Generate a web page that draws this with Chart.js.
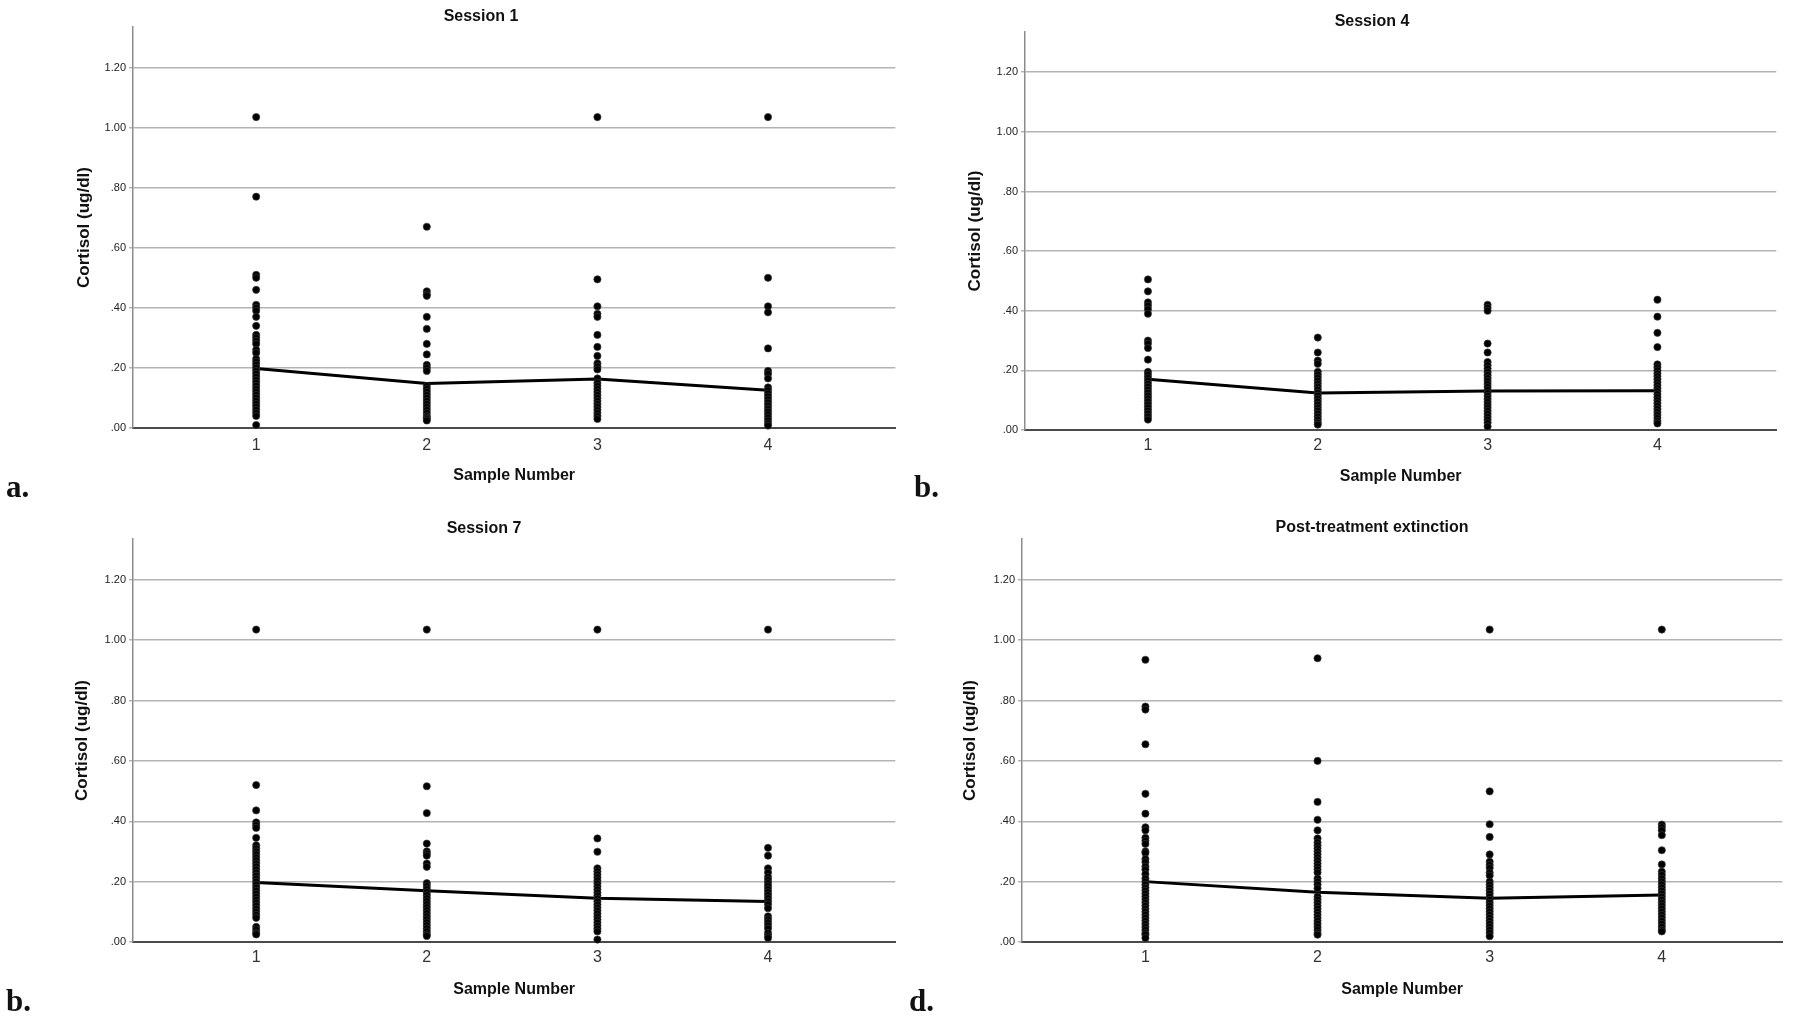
<!DOCTYPE html>
<html>
<head>
<meta charset="utf-8">
<script src="https://cdn.jsdelivr.net/npm/chart.js@4.4.1/dist/chart.umd.min.js"></script>
<style>
    html, body { margin: 0; padding: 0; background: #fff; }
    body { width: 1800px; height: 1019px; position: relative; overflow: hidden; }
    canvas { position: absolute; }
    .panel-label {
        position: absolute;
        font-family: 'Liberation Serif', 'Times New Roman', serif;
        font-weight: bold;
        font-size: 31px;
        line-height: 31px;
        color: #111;
    }
</style>
</head>
<body>
<canvas id="chartA" width="900" height="500" style="left:0px;top:0px"></canvas>
<canvas id="chartB" width="881" height="500" style="left:900px;top:0px"></canvas>
<canvas id="chartC" width="900" height="509" style="left:0px;top:510px"></canvas>
<canvas id="chartD" width="887" height="509" style="left:900px;top:510px"></canvas>
<div class="panel-label" style="left:6px;top:471px">a.</div>
<div class="panel-label" style="left:914px;top:471px">b.</div>
<div class="panel-label" style="left:6px;top:985px">b.</div>
<div class="panel-label" style="left:909px;top:985px">d.</div>
<script>
// x categories and y gridlines
const sampleNumbers = [1, 2, 3, 4];
const yTicks = [0, 0.2, 0.4, 0.6, 0.8, 1.0, 1.2];

// Session 1 - cortisol per sample (one list per sample number)
const session1Points = [
    [1.035, 0.77, 0.51, 0.50, 0.46, 0.41, 0.40, 0.39, 0.37, 0.34, 0.31, 0.30, 0.29, 0.28, 0.26, 0.25, 0.23, 0.22, 0.21, 0.20, 0.19, 0.18, 0.17, 0.16, 0.15, 0.14, 0.13, 0.12, 0.11, 0.10, 0.09, 0.08, 0.07, 0.06, 0.05, 0.04, 0.01],
    [0.67, 0.455, 0.445, 0.44, 0.37, 0.33, 0.28, 0.245, 0.21, 0.20, 0.19, 0.14, 0.13, 0.12, 0.11, 0.10, 0.09, 0.08, 0.07, 0.06, 0.05, 0.04, 0.035, 0.03, 0.025],
    [1.035, 0.495, 0.405, 0.38, 0.37, 0.31, 0.27, 0.24, 0.215, 0.205, 0.195, 0.165, 0.15, 0.14, 0.13, 0.12, 0.11, 0.10, 0.09, 0.08, 0.07, 0.06, 0.05, 0.04, 0.03],
    [1.035, 0.50, 0.405, 0.385, 0.265, 0.19, 0.18, 0.165, 0.135, 0.125, 0.115, 0.105, 0.095, 0.085, 0.075, 0.065, 0.055, 0.045, 0.035, 0.025, 0.015, 0.008]
];
const session1Means = [0.198, 0.148, 0.163, 0.126];

// Session 4
const session4Points = [
    [0.505, 0.465, 0.428, 0.417, 0.405, 0.39, 0.30, 0.29, 0.275, 0.236, 0.195, 0.185, 0.175, 0.165, 0.155, 0.145, 0.135, 0.125, 0.115, 0.105, 0.095, 0.085, 0.075, 0.065, 0.055, 0.045, 0.035],
    [0.31, 0.26, 0.233, 0.222, 0.195, 0.185, 0.175, 0.165, 0.155, 0.145, 0.135, 0.125, 0.115, 0.105, 0.095, 0.085, 0.075, 0.065, 0.055, 0.045, 0.035, 0.025, 0.018],
    [0.42, 0.41, 0.40, 0.29, 0.26, 0.228, 0.217, 0.206, 0.194, 0.184, 0.174, 0.164, 0.154, 0.144, 0.134, 0.124, 0.114, 0.104, 0.094, 0.084, 0.074, 0.064, 0.054, 0.044, 0.034, 0.024, 0.012],
    [0.437, 0.38, 0.326, 0.278, 0.22, 0.21, 0.20, 0.19, 0.18, 0.17, 0.16, 0.15, 0.14, 0.13, 0.12, 0.11, 0.10, 0.09, 0.08, 0.07, 0.06, 0.05, 0.04, 0.03, 0.022]
];
const session4Means = [0.170, 0.124, 0.131, 0.132];

// Session 7
const session7Points = [
    [1.035, 0.52, 0.436, 0.396, 0.387, 0.378, 0.345, 0.32, 0.31, 0.30, 0.29, 0.28, 0.27, 0.26, 0.25, 0.24, 0.23, 0.22, 0.21, 0.20, 0.19, 0.18, 0.17, 0.16, 0.15, 0.14, 0.13, 0.12, 0.11, 0.10, 0.09, 0.08, 0.05, 0.04, 0.03, 0.025],
    [1.035, 0.516, 0.427, 0.326, 0.30, 0.293, 0.286, 0.26, 0.249, 0.195, 0.185, 0.175, 0.165, 0.155, 0.145, 0.135, 0.125, 0.115, 0.105, 0.095, 0.085, 0.075, 0.065, 0.055, 0.045, 0.035, 0.025, 0.02],
    [1.035, 0.343, 0.299, 0.244, 0.234, 0.224, 0.214, 0.204, 0.194, 0.184, 0.174, 0.164, 0.154, 0.144, 0.134, 0.124, 0.114, 0.104, 0.094, 0.084, 0.074, 0.064, 0.054, 0.044, 0.035, 0.008],
    [1.035, 0.312, 0.286, 0.244, 0.23, 0.215, 0.205, 0.195, 0.185, 0.175, 0.165, 0.155, 0.145, 0.135, 0.125, 0.112, 0.085, 0.075, 0.065, 0.055, 0.045, 0.03, 0.02, 0.013]
];
const session7Means = [0.197, 0.170, 0.145, 0.134];

// Post-treatment extinction
const extinctionPoints = [
    [0.935, 0.78, 0.77, 0.655, 0.491, 0.425, 0.38, 0.37, 0.345, 0.335, 0.325, 0.30, 0.295, 0.275, 0.265, 0.25, 0.24, 0.225, 0.21, 0.20, 0.19, 0.18, 0.17, 0.16, 0.15, 0.14, 0.13, 0.12, 0.11, 0.10, 0.09, 0.08, 0.07, 0.06, 0.05, 0.04, 0.03, 0.024, 0.013],
    [0.94, 0.60, 0.464, 0.405, 0.37, 0.343, 0.33, 0.32, 0.31, 0.30, 0.29, 0.28, 0.27, 0.26, 0.25, 0.24, 0.23, 0.21, 0.20, 0.19, 0.178, 0.15, 0.14, 0.13, 0.12, 0.11, 0.10, 0.09, 0.08, 0.07, 0.06, 0.05, 0.04, 0.03, 0.024],
    [1.035, 0.499, 0.39, 0.348, 0.29, 0.266, 0.255, 0.245, 0.23, 0.22, 0.20, 0.19, 0.18, 0.17, 0.16, 0.15, 0.14, 0.13, 0.12, 0.11, 0.10, 0.09, 0.08, 0.07, 0.06, 0.05, 0.04, 0.03, 0.019],
    [1.035, 0.389, 0.38, 0.37, 0.354, 0.304, 0.257, 0.233, 0.222, 0.21, 0.20, 0.19, 0.18, 0.17, 0.16, 0.15, 0.14, 0.13, 0.12, 0.11, 0.10, 0.09, 0.08, 0.07, 0.06, 0.05, 0.04, 0.035]
];
const extinctionMeans = [0.200, 0.165, 0.145, 0.156];

Chart.defaults.font.family = "'Liberation Sans', Arial, sans-serif";
Chart.defaults.color = '#222';

function formatTick(v) {
    const s = v.toFixed(2);
    return v < 1 ? s.slice(1) : s;
}

function drawPanel(canvasId, title, points, means, lay) {
    const scatter = [];
    points.forEach((col, i) => {
        col.forEach(v => scatter.push({ x: sampleNumbers[i], y: v }));
    });
    const meanLine = means.map((m, i) => ({ x: sampleNumbers[i], y: m }));

    new Chart(document.getElementById(canvasId), {
        type: 'scatter',
        data: {
            datasets: [
                {
                    data: scatter,
                    backgroundColor: '#000',
                    borderColor: '#3a3a3a',
                    borderWidth: 0.7,
                    pointRadius: 3.6,
                    clip: false
                },
                {
                    data: meanLine,
                    showLine: true,
                    borderColor: '#000',
                    borderWidth: 3,
                    pointRadius: 0,
                    clip: false
                }
            ]
        },
        options: {
            responsive: false,
            animation: false,
            devicePixelRatio: 1,
            layout: { padding: { left: lay.padLeft, right: 0, top: 0, bottom: 0 } },
            plugins: {
                legend: { display: false },
                tooltip: { enabled: false },
                title: {
                    display: true,
                    text: title,
                    color: '#111',
                    font: { size: 16, weight: 'bold' },
                    padding: { top: lay.titleTop, bottom: lay.titleBottom }
                }
            },
            scales: {
                x: {
                    type: 'linear',
                    min: lay.xMin,
                    max: lay.xMax,
                    afterBuildTicks: (axis) => { axis.ticks = sampleNumbers.map(v => ({ value: v })); },
                    afterFit: (axis) => { axis.height = lay.h - lay.plotBottom; },
                    grid: { display: false, drawTicks: false },
                    border: { display: true, color: '#4a4a4a', width: 2 },
                    ticks: {
                        padding: lay.tickPad,
                        color: '#333',
                        font: { size: 16 },
                        callback: (v) => String(v)
                    },
                    title: {
                        display: true,
                        text: 'Sample Number',
                        color: '#111',
                        font: { size: 16, weight: 'bold' },
                        padding: { top: 0, bottom: lay.xTitleBottom }
                    }
                },
                y: {
                    min: 0,
                    max: 1.335,
                    afterBuildTicks: (axis) => { axis.ticks = yTicks.map(v => ({ value: v })); },
                    afterFit: (axis) => { axis.width = lay.yAxisWidth; },
                    grid: { color: '#b4b4b4', lineWidth: 1.5, tickLength: 4 },
                    border: { display: true, color: '#8c8c8c', width: 1.5 },
                    ticks: {
                        padding: 3,
                        color: '#222',
                        font: { size: 11 },
                        callback: (v) => formatTick(v)
                    },
                    title: {
                        display: true,
                        text: 'Cortisol (ug/dl)',
                        color: '#111',
                        font: { size: 17, weight: 'bold' },
                        padding: { top: lay.yTitleTop, bottom: 0 }
                    }
                }
            }
        }
    });
}

drawPanel('chartA', 'Session 1', session1Points, session1Means,
    { h: 500, padLeft: 62, yAxisWidth: 71, plotBottom: 428, titleTop: 7, titleBottom: 0.8, tickPad: 8, xTitleBottom: 14.4, yTitleTop: 11.8, xMin: 0.278, xMax: 4.746 });
drawPanel('chartB', 'Session 4', session4Points, session4Means,
    { h: 500, padLeft: 63, yAxisWidth: 62, plotBottom: 430, titleTop: 12.4, titleBottom: 0.4, tickPad: 6, xTitleBottom: 13.4, yTitleTop: 1.8, xMin: 0.276, xMax: 4.70 });
drawPanel('chartC', 'Session 7', session7Points, session7Means,
    { h: 509, padLeft: 68, yAxisWidth: 65, plotBottom: 432, titleTop: 9.4, titleBottom: 0.4, tickPad: 6.4, xTitleBottom: 19.4, yTitleTop: 4, xMin: 0.278, xMax: 4.746 });
drawPanel('chartD', 'Post-treatment extinction', extinctionPoints, extinctionMeans,
    { h: 509, padLeft: 57, yAxisWidth: 65, plotBottom: 432, titleTop: 8.4, titleBottom: 1.4, tickPad: 6.4, xTitleBottom: 19.4, yTitleTop: 2.8, xMin: 0.283, xMax: 4.70 });
</script>
</body>
</html>
